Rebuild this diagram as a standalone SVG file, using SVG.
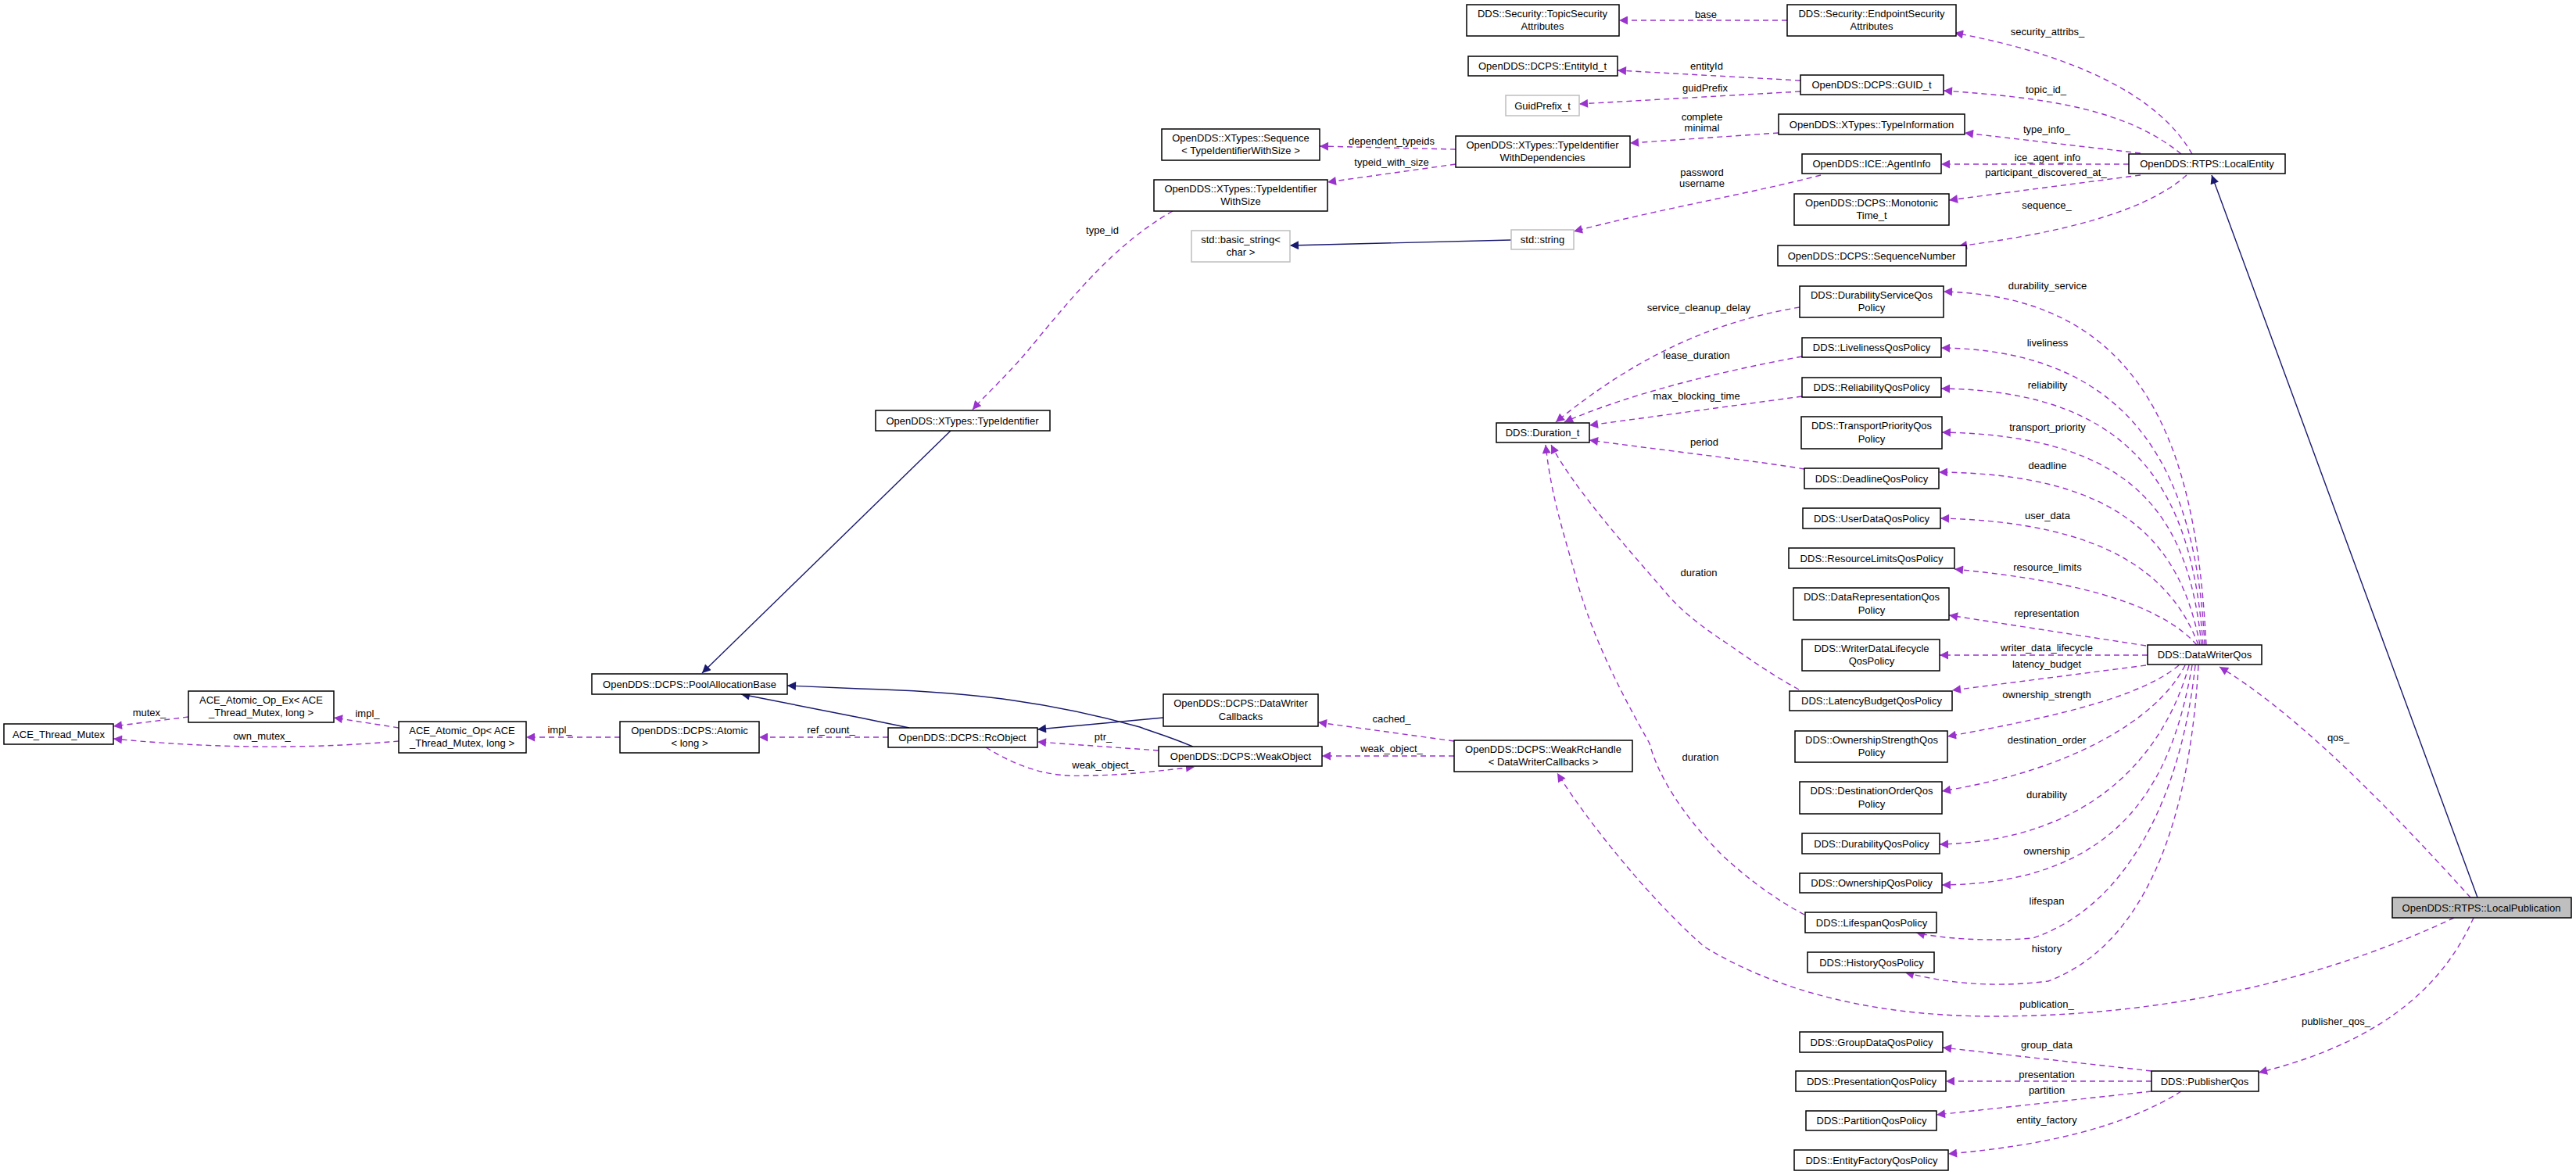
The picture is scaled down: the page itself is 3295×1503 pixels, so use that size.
<svg xmlns="http://www.w3.org/2000/svg" width="3295" height="1503" viewBox="0 0 3295 1503">
<style>
text{font-family:"Liberation Sans",Arial,sans-serif;font-size:13px;fill:#000;text-anchor:middle}
.n rect{fill:#fff;stroke:#000;stroke-width:1.5}
.g rect{fill:#fff;stroke:#bfbfbf;stroke-width:1.5}
.sel rect{fill:#bfbfbf;stroke:#000;stroke-width:1.5}
.d{fill:none;stroke:#9a32cd;stroke-width:1.4;stroke-dasharray:7,5;marker-end:url(#pa)}
.s{fill:none;stroke:#191970;stroke-width:1.4;marker-end:url(#na)}
</style>
<defs>
<marker id="pa" viewBox="0 0 10 10" refX="10" refY="5" markerWidth="14" markerHeight="11" markerUnits="userSpaceOnUse" orient="auto"><path d="M0,0L10,5L0,10z" fill="#9a32cd"/></marker>
<marker id="na" viewBox="0 0 10 10" refX="10" refY="5" markerWidth="14" markerHeight="11" markerUnits="userSpaceOnUse" orient="auto"><path d="M0,0L10,5L0,10z" fill="#191970"/></marker>
</defs>
<rect width="3295" height="1503" fill="#fff"/>
<g id="edges">
<path class="s" d="M3169,1148L2829,224"/>
<path class="s" d="M1216,551L898,861"/>
<path class="s" d="M1163,931L1100,918L948,888"/>
<path class="s" d="M1526,955C1490,940 1470,935 1458,930C1350,900 1250,885 1100,881L1007,877"/>
<path class="s" d="M1488,918L1327,933"/>
<path class="s" d="M1933,307L1650,314"/>
<path class="d" d="M2286,26L2071,26"/>
<path class="d" d="M2804,197C2760,120 2650,70 2500,42"/>
<path class="d" d="M2790,197C2720,140 2620,125 2486,116"/>
<path class="d" d="M2303,103L2069,90"/>
<path class="d" d="M2303,117L2020,133"/>
<path class="d" d="M2738,196L2513,170"/>
<path class="d" d="M2275,170L2085,183"/>
<path class="d" d="M1862,191L1688,187"/>
<path class="d" d="M1862,210L1698,233"/>
<path class="d" d="M1500,270C1430,310 1380,370 1330,430C1290,480 1265,500 1244,524"/>
<path class="d" d="M2723,210L2483,210"/>
<path class="d" d="M2329,224C2250,245 2120,268 2013,296"/>
<path class="d" d="M2738,224L2493,256"/>
<path class="d" d="M2797,224C2740,275 2620,300 2505,315"/>
<path class="d" d="M2822,825C2810,600 2760,380 2486,373"/>
<path class="d" d="M2820,825C2810,620 2740,448 2483,445"/>
<path class="d" d="M2818,825C2805,640 2740,500 2483,497"/>
<path class="d" d="M2816,825C2800,670 2740,557 2484,553"/>
<path class="d" d="M2814,825C2790,700 2720,606 2480,604"/>
<path class="d" d="M2812,825C2780,740 2700,668 2482,663"/>
<path class="d" d="M2810,825C2770,780 2680,745 2500,728"/>
<path class="d" d="M2745,826L2493,787"/>
<path class="d" d="M2747,838L2481,838"/>
<path class="d" d="M2745,851L2497,883"/>
<path class="d" d="M2787,851C2740,890 2640,915 2491,942"/>
<path class="d" d="M2795,851C2760,920 2650,985 2484,1012"/>
<path class="d" d="M2800,851C2770,960 2680,1075 2481,1080"/>
<path class="d" d="M2804,851C2780,990 2720,1130 2484,1132"/>
<path class="d" d="M2808,851C2790,1020 2720,1160 2600,1200C2540,1205 2480,1200 2451,1193"/>
<path class="d" d="M2812,851C2800,1060 2740,1210 2620,1255C2540,1265 2480,1255 2437,1244"/>
<path class="d" d="M3160,1148C3080,1060 2950,920 2839,853"/>
<path class="d" d="M3139,1174C3000,1240 2800,1300 2549,1300C2380,1300 2260,1260 2180,1211C2110,1150 2030,1050 1992,989"/>
<path class="d" d="M3164,1174C3130,1250 3060,1330 2889,1372"/>
<path class="d" d="M2752,1370L2485,1340"/>
<path class="d" d="M2752,1383L2489,1383"/>
<path class="d" d="M2752,1396L2477,1426"/>
<path class="d" d="M2790,1396C2720,1440 2620,1465 2492,1476"/>
<path class="d" d="M2302,393C2200,410 2100,450 1990,540"/>
<path class="d" d="M2305,456C2200,475 2080,505 2001,540"/>
<path class="d" d="M2305,507L2033,544"/>
<path class="d" d="M2308,600C2250,590 2120,575 2033,563"/>
<path class="d" d="M2301,882C2260,860 2220,830 2200,817C2160,790 2140,770 2124,750C2080,700 2010,620 1984,569"/>
<path class="d" d="M2308,1170C2270,1150 2230,1120 2200,1091C2150,1040 2120,990 2110,951C2070,880 2040,820 2019,750C2000,680 1985,640 1977,569"/>
<path class="d" d="M241,917L145,929"/>
<path class="d" d="M510,948C420,956 300,960 145,945"/>
<path class="d" d="M510,931L427,918"/>
<path class="d" d="M793,943L673,943"/>
<path class="d" d="M1136,943L971,943"/>
<path class="d" d="M1482,960L1327,949"/>
<path class="d" d="M1261,956C1300,980 1340,995 1390,992C1440,992 1490,985 1528,981"/>
<path class="d" d="M1860,967L1691,967"/>
<path class="d" d="M1860,948L1686,924"/>
</g>
<g id="edge-labels">
<text x="2182" y="23">base</text>
<text x="2619" y="45">security_attribs_</text>
<text x="2617" y="119">topic_id_</text>
<text x="2183" y="89">entityId</text>
<text x="2181" y="117">guidPrefix</text>
<text x="2618" y="170">type_info_</text>
<text x="2177" y="154">complete</text>
<text x="2177" y="168">minimal</text>
<text x="1780" y="185">dependent_typeids</text>
<text x="1780" y="212">typeid_with_size</text>
<text x="1410" y="299">type_id</text>
<text x="2619" y="206">ice_agent_info</text>
<text x="2177" y="225">password</text>
<text x="2177" y="239">username</text>
<text x="2617" y="225">participant_discovered_at_</text>
<text x="2618" y="267">sequence_</text>
<text x="2619" y="370">durability_service</text>
<text x="2619" y="443">liveliness</text>
<text x="2619" y="497">reliability</text>
<text x="2619" y="551">transport_priority</text>
<text x="2619" y="600">deadline</text>
<text x="2619" y="664">user_data</text>
<text x="2619" y="730">resource_limits</text>
<text x="2618" y="789">representation</text>
<text x="2618" y="833">writer_data_lifecycle</text>
<text x="2618" y="854">latency_budget</text>
<text x="2618" y="893">ownership_strength</text>
<text x="2618" y="951">destination_order</text>
<text x="2618" y="1021">durability</text>
<text x="2618" y="1093">ownership</text>
<text x="2618" y="1157">lifespan</text>
<text x="2618" y="1218">history</text>
<text x="2991" y="948">qos_</text>
<text x="2618" y="1289">publication_</text>
<text x="2988" y="1311">publisher_qos_</text>
<text x="2618" y="1341">group_data</text>
<text x="2618" y="1379">presentation</text>
<text x="2618" y="1399">partition</text>
<text x="2618" y="1437">entity_factory</text>
<text x="2173" y="398">service_cleanup_delay</text>
<text x="2170" y="459">lease_duration</text>
<text x="2170" y="511">max_blocking_time</text>
<text x="2180" y="570">period</text>
<text x="2173" y="737">duration</text>
<text x="2175" y="973">duration</text>
<text x="191" y="916">mutex_</text>
<text x="335" y="946">own_mutex_</text>
<text x="470" y="917">impl_</text>
<text x="716" y="938">impl_</text>
<text x="1063" y="938">ref_count_</text>
<text x="1411" y="947">ptr_</text>
<text x="1411" y="983">weak_object_</text>
<text x="1780" y="962">weak_object_</text>
<text x="1780" y="924">cached_</text>
</g>
<g id="n_topicsec" class="n"><rect x="1876" y="6" width="195" height="40"/><text x="1973" y="22">DDS::Security::TopicSecurity</text><text x="1973" y="38">Attributes</text></g>
<g id="n_endpointsec" class="n"><rect x="2286" y="6" width="216" height="40"/><text x="2394" y="22">DDS::Security::EndpointSecurity</text><text x="2394" y="38">Attributes</text></g>
<g id="n_entityid" class="n"><rect x="1878" y="72" width="191" height="25"/><text x="1973" y="89">OpenDDS::DCPS::EntityId_t</text></g>
<g id="n_guidprefix" class="g"><rect x="1926" y="122" width="94" height="26"/><text x="1973" y="140">GuidPrefix_t</text></g>
<g id="n_guid" class="n"><rect x="2303" y="96" width="183" height="25"/><text x="2394" y="113">OpenDDS::DCPS::GUID_t</text></g>
<g id="n_typeinfo" class="n"><rect x="2275" y="146" width="238" height="26"/><text x="2394" y="164">OpenDDS::XTypes::TypeInformation</text></g>
<g id="n_seq" class="n"><rect x="1486" y="165" width="202" height="40"/><text x="1587" y="181">OpenDDS::XTypes::Sequence</text><text x="1587" y="197">&lt; TypeIdentifierWithSize &gt;</text></g>
<g id="n_tiwd" class="n"><rect x="1862" y="174" width="223" height="40"/><text x="1973" y="190">OpenDDS::XTypes::TypeIdentifier</text><text x="1973" y="206">WithDependencies</text></g>
<g id="n_tiws" class="n"><rect x="1476" y="230" width="222" height="40"/><text x="1587" y="246">OpenDDS::XTypes::TypeIdentifier</text><text x="1587" y="262">WithSize</text></g>
<g id="n_agent" class="n"><rect x="2305" y="197" width="178" height="25"/><text x="2394" y="214">OpenDDS::ICE::AgentInfo</text></g>
<g id="n_localentity" class="n"><rect x="2723" y="197" width="200" height="25"/><text x="2823" y="214">OpenDDS::RTPS::LocalEntity</text></g>
<g id="n_mono" class="n"><rect x="2295" y="248" width="198" height="40"/><text x="2394" y="264">OpenDDS::DCPS::Monotonic</text><text x="2394" y="280">Time_t</text></g>
<g id="n_basicstr" class="g"><rect x="1524" y="295" width="126" height="40"/><text x="1587" y="311">std::basic_string&lt;</text><text x="1587" y="327">char &gt;</text></g>
<g id="n_stdstr" class="g"><rect x="1933" y="294" width="80" height="25"/><text x="1973" y="311">std::string</text></g>
<g id="n_seqnum" class="n"><rect x="2274" y="314" width="241" height="26"/><text x="2394" y="332">OpenDDS::DCPS::SequenceNumber</text></g>
<g id="n_typeid" class="n"><rect x="1120" y="525" width="223" height="26"/><text x="1231" y="543">OpenDDS::XTypes::TypeIdentifier</text></g>
<g id="n_duration" class="n"><rect x="1914" y="541" width="119" height="25"/><text x="1973" y="558">DDS::Duration_t</text></g>
<g id="n_dursvc" class="n"><rect x="2302" y="366" width="184" height="40"/><text x="2394" y="382">DDS::DurabilityServiceQos</text><text x="2394" y="398">Policy</text></g>
<g id="n_live" class="n"><rect x="2305" y="432" width="178" height="25"/><text x="2394" y="449">DDS::LivelinessQosPolicy</text></g>
<g id="n_rel" class="n"><rect x="2305" y="483" width="178" height="25"/><text x="2394" y="500">DDS::ReliabilityQosPolicy</text></g>
<g id="n_tp" class="n"><rect x="2304" y="533" width="180" height="41"/><text x="2394" y="549">DDS::TransportPriorityQos</text><text x="2394" y="566">Policy</text></g>
<g id="n_dead" class="n"><rect x="2308" y="599" width="172" height="26"/><text x="2394" y="617">DDS::DeadlineQosPolicy</text></g>
<g id="n_ud" class="n"><rect x="2306" y="650" width="176" height="26"/><text x="2394" y="668">DDS::UserDataQosPolicy</text></g>
<g id="n_rl" class="n"><rect x="2288" y="701" width="212" height="26"/><text x="2394" y="719">DDS::ResourceLimitsQosPolicy</text></g>
<g id="n_drep" class="n"><rect x="2294" y="752" width="199" height="41"/><text x="2394" y="768">DDS::DataRepresentationQos</text><text x="2394" y="785">Policy</text></g>
<g id="n_wdl" class="n"><rect x="2305" y="818" width="176" height="40"/><text x="2394" y="834">DDS::WriterDataLifecycle</text><text x="2394" y="850">QosPolicy</text></g>
<g id="n_lb" class="n"><rect x="2289" y="884" width="208" height="25"/><text x="2394" y="901">DDS::LatencyBudgetQosPolicy</text></g>
<g id="n_os" class="n"><rect x="2296" y="935" width="195" height="40"/><text x="2394" y="951">DDS::OwnershipStrengthQos</text><text x="2394" y="967">Policy</text></g>
<g id="n_do" class="n"><rect x="2302" y="1000" width="182" height="41"/><text x="2394" y="1016">DDS::DestinationOrderQos</text><text x="2394" y="1033">Policy</text></g>
<g id="n_dur" class="n"><rect x="2305" y="1066" width="176" height="26"/><text x="2394" y="1084">DDS::DurabilityQosPolicy</text></g>
<g id="n_own" class="n"><rect x="2302" y="1117" width="182" height="25"/><text x="2394" y="1134">DDS::OwnershipQosPolicy</text></g>
<g id="n_life" class="n"><rect x="2309" y="1167" width="168" height="26"/><text x="2394" y="1185">DDS::LifespanQosPolicy</text></g>
<g id="n_hist" class="n"><rect x="2312" y="1218" width="162" height="26"/><text x="2394" y="1236">DDS::HistoryQosPolicy</text></g>
<g id="n_gd" class="n"><rect x="2302" y="1320" width="183" height="26"/><text x="2394" y="1338">DDS::GroupDataQosPolicy</text></g>
<g id="n_pres" class="n"><rect x="2297" y="1370" width="192" height="26"/><text x="2394" y="1388">DDS::PresentationQosPolicy</text></g>
<g id="n_part" class="n"><rect x="2310" y="1421" width="167" height="25"/><text x="2394" y="1438">DDS::PartitionQosPolicy</text></g>
<g id="n_ef" class="n"><rect x="2295" y="1471" width="197" height="26"/><text x="2394" y="1489">DDS::EntityFactoryQosPolicy</text></g>
<g id="n_dwqos" class="n"><rect x="2747" y="825" width="146" height="25"/><text x="2820" y="842">DDS::DataWriterQos</text></g>
<g id="n_pubqos" class="n"><rect x="2752" y="1370" width="137" height="26"/><text x="2820" y="1388">DDS::PublisherQos</text></g>
<g id="n_localpub" class="sel"><rect x="3060" y="1148" width="229" height="26"/><text x="3174" y="1166">OpenDDS::RTPS::LocalPublication</text></g>
<g id="n_mutex" class="n"><rect x="5" y="926" width="140" height="26"/><text x="75" y="944">ACE_Thread_Mutex</text></g>
<g id="n_opex" class="n"><rect x="241" y="884" width="186" height="40"/><text x="334" y="900">ACE_Atomic_Op_Ex&lt; ACE</text><text x="334" y="916">_Thread_Mutex, long &gt;</text></g>
<g id="n_op" class="n"><rect x="510" y="923" width="163" height="40"/><text x="591" y="939">ACE_Atomic_Op&lt; ACE</text><text x="591" y="955">_Thread_Mutex, long &gt;</text></g>
<g id="n_atomic" class="n"><rect x="793" y="923" width="178" height="40"/><text x="882" y="939">OpenDDS::DCPS::Atomic</text><text x="882" y="955">&lt; long &gt;</text></g>
<g id="n_pool" class="n"><rect x="757" y="862" width="250" height="26"/><text x="882" y="880">OpenDDS::DCPS::PoolAllocationBase</text></g>
<g id="n_rc" class="n"><rect x="1136" y="931" width="191" height="25"/><text x="1231" y="948">OpenDDS::DCPS::RcObject</text></g>
<g id="n_dwcb" class="n"><rect x="1488" y="888" width="198" height="41"/><text x="1587" y="904">OpenDDS::DCPS::DataWriter</text><text x="1587" y="921">Callbacks</text></g>
<g id="n_weak" class="n"><rect x="1482" y="955" width="209" height="25"/><text x="1587" y="972">OpenDDS::DCPS::WeakObject</text></g>
<g id="n_wrh" class="n"><rect x="1860" y="947" width="228" height="40"/><text x="1974" y="963">OpenDDS::DCPS::WeakRcHandle</text><text x="1974" y="979">&lt; DataWriterCallbacks &gt;</text></g>
</svg>
